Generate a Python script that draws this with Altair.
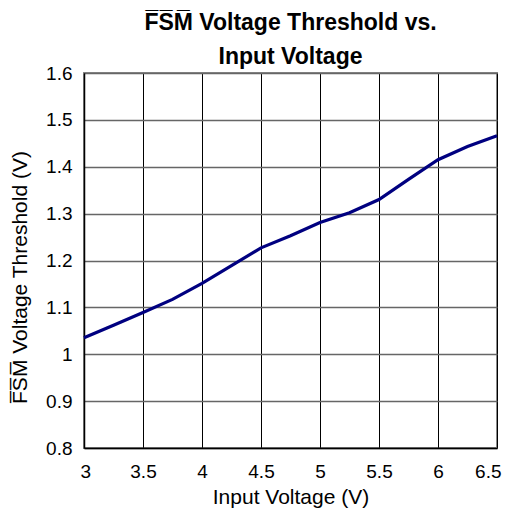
import altair as alt
import pandas as pd

vin = [3.0, 3.25, 3.5, 3.75, 4.0, 4.25, 4.5, 4.75, 5.0, 5.25, 5.5, 5.75, 6.0, 6.25, 6.5]
vth = [1.035, 1.062, 1.089, 1.117, 1.151, 1.189, 1.227, 1.253, 1.281, 1.302, 1.330, 1.373, 1.415, 1.443, 1.466]
x_ticks = [3, 3.5, 4, 4.5, 5, 5.5, 6, 6.5]
y_ticks = [0.8, 0.9, 1.0, 1.1, 1.2, 1.3, 1.4, 1.5, 1.6]

df = pd.DataFrame({"vin": vin, "vth": vth})

FONT = "Liberation Sans"
ov = "F\u0305S\u0305M\u0305"

chart = alt.Chart(df).mark_line(color="#000080", strokeWidth=3.2, clip=False).encode(
    x=alt.X("vin:Q", scale=alt.Scale(domain=[3, 6.5], nice=False, zero=False),
            axis=alt.Axis(values=x_ticks, title="Input Voltage (V)", format="~g",
                          gridColor="#000000", gridWidth=1, tickSize=0, labelPadding=14,
                          domainColor="#000000", domainWidth=1.5,
                          titleY=55, titleBaseline="alphabetic", titleFontSize=21,
                          labelFlush=True, labelFlushOffset=4)),
    y=alt.Y("vth:Q", scale=alt.Scale(domain=[0.8, 1.6], nice=False, zero=False),
            axis=alt.Axis(values=y_ticks,
                          title=f"{ov} Voltage Threshold (V)", format="~g",
                          gridColor="#666666", gridWidth=1.5, tickSize=0, labelPadding=12,
                          domainColor="#000000", domainWidth=1.5,
                          titleX=-58, titleY=204, titleBaseline="alphabetic",
                          titleAlign="center", titleAngle=270, titleFontSize=21,
                          labelFlush=False)),
).properties(
    width=413,
    height=375,
    title=alt.TitleParams(text=[f"{ov} Voltage Threshold vs.", "Input Voltage"],
                          fontSize=23, fontWeight="bold", font=FONT, color="#000000",
                          lineHeight=34, offset=-5, anchor="middle"),
    autosize=alt.AutoSizeParams(type="none"),
    padding={"left": 76, "top": 65, "right": 7, "bottom": 62},
).configure_axis(
    labelFont=FONT, titleFont=FONT, labelFontSize=19,
    labelColor="#000000", titleColor="#000000", titleFontWeight="normal",
).configure_view(
    stroke="#888888", strokeWidth=2,
)

chart.save("out.html", embed_options={"renderer": "svg", "actions": False})
